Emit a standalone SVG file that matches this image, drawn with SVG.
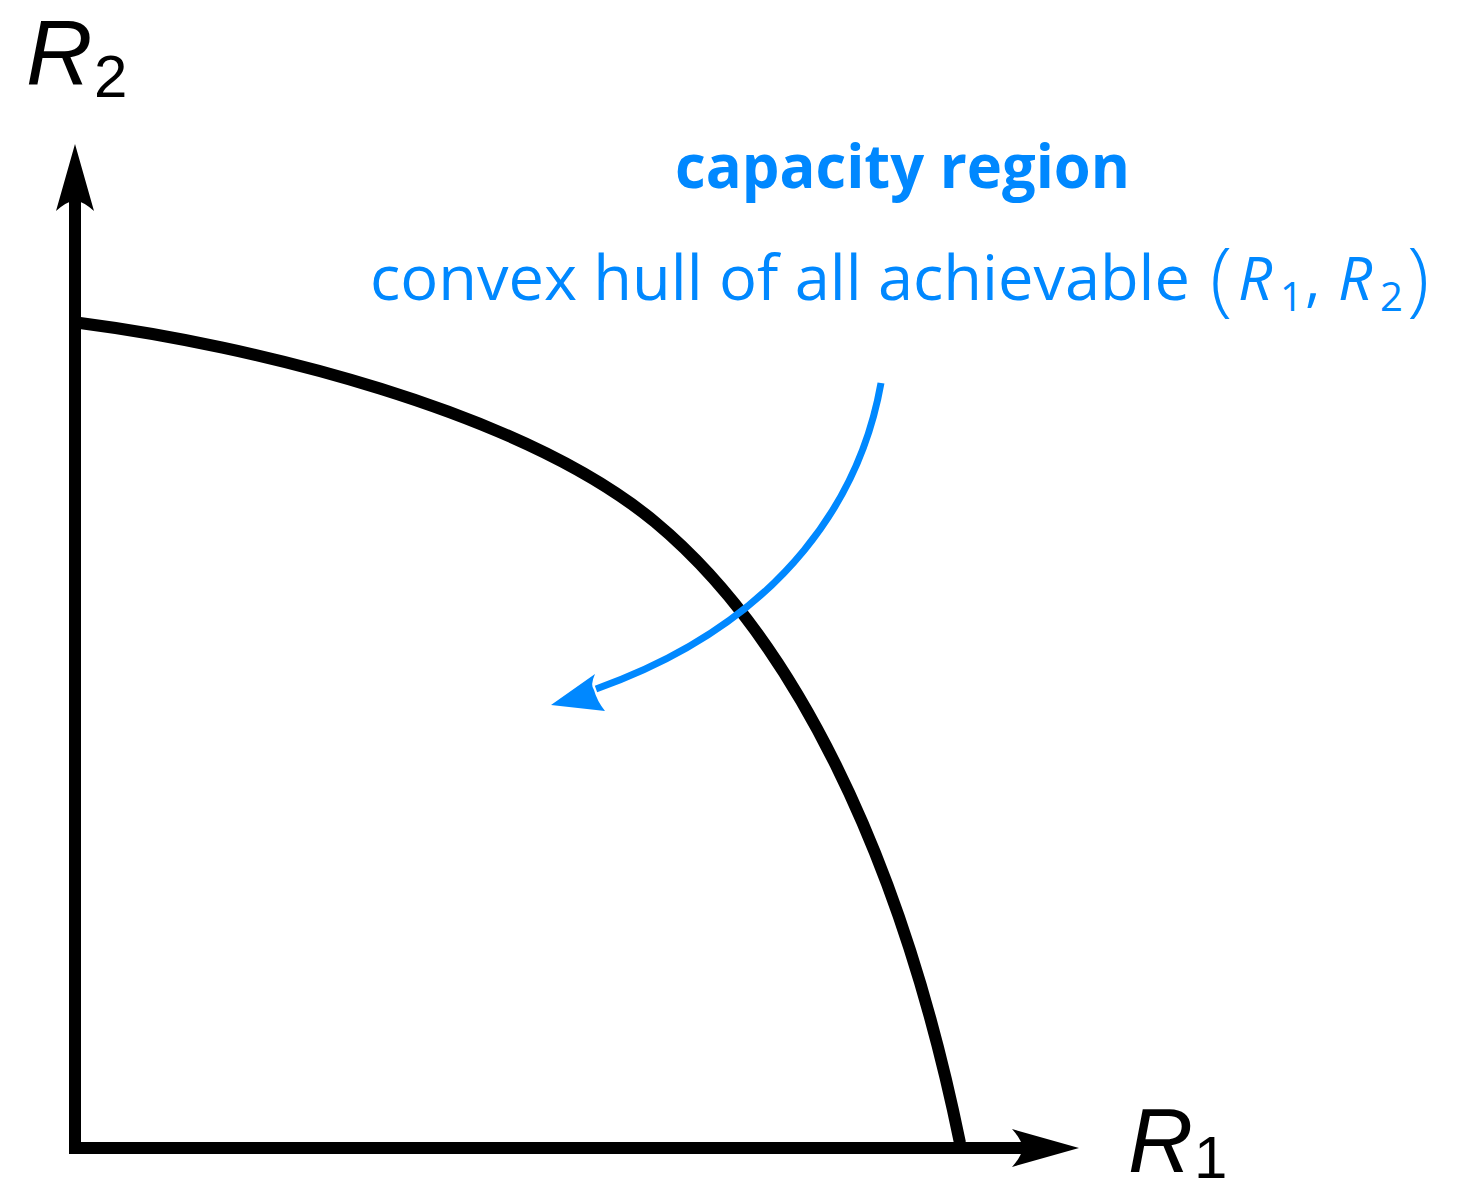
<svg xmlns="http://www.w3.org/2000/svg" width="1461" height="1192" viewBox="0 0 1461 1192">
<style>
.ax{stroke:#000;stroke-width:12;fill:none}
.blue{fill:#0088ff}
.lbl{font-family:"Liberation Sans","Open Sans",sans-serif;fill:#000}
.bt{font-family:"Open Sans","Liberation Sans",sans-serif;fill:#0088ff}
</style>
<defs>
<marker id="ah" markerUnits="userSpaceOnUse" viewBox="-70 -22 72 44" markerWidth="72" markerHeight="44" refX="-55" refY="0" orient="auto" overflow="visible">
<path d="M0,0 L-67,-19 Q-58,-9 -56,0 Q-58,9 -67,19 Z" fill="#000"/>
</marker>
</defs>
<rect width="1461" height="1192" fill="#fff"/>
<g id="connectors">
<path id="y-axis" class="ax" d="M75,1154 L75,199" marker-end="url(#ah)"/>
<path id="x-axis" class="ax" d="M69,1148 L1024,1148" marker-end="url(#ah)"/>
<path id="boundary" class="ax" d="M80,323 C250,345 520,410 655,522 C790,634 900,850 960,1143"/>
<path id="pointer" d="M881,383 C862,490 790,620 596,689" stroke="#0088ff" stroke-width="7" fill="none"/>
<path id="pointer-head" class="blue" d="M551,705 L595,674 Q590,685 594,690 Q597,701 605,711 Z"/>
</g>
<g id="label-r2">
<text class="lbl" x="26" y="85" font-size="92" font-style="italic">R</text>
<text class="lbl" x="94" y="97" font-size="60">2</text>
</g>
<g id="label-r1">
<text class="lbl" x="1128" y="1172" font-size="90" font-style="italic">R</text>
<text class="lbl" x="1194" y="1178" font-size="60">1</text>
</g>
<g id="label-capacity">
<text class="bt" x="675" y="188" font-size="60" font-weight="bold" textLength="455" lengthAdjust="spacingAndGlyphs">capacity region</text>
<text class="bt" x="370" y="300" font-size="62" textLength="820" lengthAdjust="spacingAndGlyphs">convex hull of all achievable</text>
<text class="bt" x="1210" y="306" font-size="82" font-weight="300">(</text>
<text class="bt" x="1238" y="300" font-size="60" font-style="italic">R</text>
<text class="bt" x="1280" y="311" font-size="40">1</text>
<text class="bt" x="1305" y="300" font-size="60">,</text>
<text class="bt" x="1338" y="300" font-size="60" font-style="italic">R</text>
<text class="bt" x="1380" y="311" font-size="40">2</text>
<text class="bt" x="1407" y="306" font-size="82" font-weight="300">)</text>
</g>
</svg>
